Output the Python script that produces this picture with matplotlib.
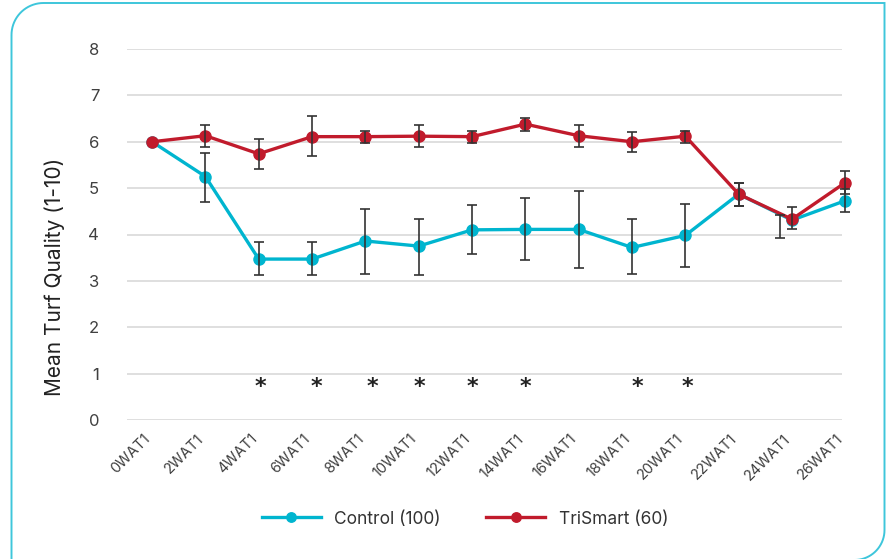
import numpy as np
import matplotlib
matplotlib.use("Agg")
import matplotlib.pyplot as plt
from matplotlib.patches import PathPatch
from matplotlib.path import Path
from matplotlib.transforms import ScaledTranslation

plt.rcParams['font.family'] = ['Inter', 'DejaVu Sans']

weeks = ['0WAT1', '2WAT1', '4WAT1', '6WAT1', '8WAT1', '10WAT1', '12WAT1',
         '14WAT1', '16WAT1', '18WAT1', '20WAT1', '22WAT1', '24WAT1', '26WAT1']

control = [6.0, 5.25, 3.47, 3.47, 3.86, 3.75, 4.10, 4.11, 4.11, 3.72, 3.98, 4.87, 4.31, 4.73]
control_hi = [6.0, 5.76, 3.83, 3.83, 4.56, 4.33, 4.64, 4.78, 4.94, 4.33, 4.66, 5.12, 4.42, 4.98]
control_lo = [6.0, 4.71, 3.13, 3.13, 3.14, 3.13, 3.58, 3.45, 3.28, 3.14, 3.30, 4.61, 3.93, 4.49]
control_err_shift = [0, 0, 0, 0, 0, 0, 0, 0, 0, 0, 0, 0, -0.22, 0]

trismart = [6.0, 6.13, 5.74, 6.11, 6.11, 6.12, 6.11, 6.38, 6.13, 6.0, 6.12, 4.87, 4.33, 5.12]
trismart_hi = [6.0, 6.36, 6.07, 6.56, 6.24, 6.36, 6.24, 6.51, 6.36, 6.20, 6.24, 5.12, 4.59, 5.37]
trismart_lo = [6.0, 5.89, 5.41, 5.69, 5.98, 5.88, 5.98, 6.24, 5.88, 5.78, 5.98, 4.61, 4.12, 4.87]

# significance marks (x in category units)
star_x = [2.03, 3.09, 4.14, 5.01, 6.0, 7.0, 9.1, 10.03]
star_y = 0.72

cyan = '#00B5CF'
red = '#C11B2C'

fig = plt.figure(figsize=(8.94, 5.59), dpi=100)
W, H = 894, 559

# rounded frame round the whole chart
def frame_path():
    l, t, r, b = 11.5, 3.0, 884.5, 560.0
    r1, r2 = 32, 30
    pts = []
    a = np.linspace(np.pi, np.pi / 2, 20)
    pts += [(l + r1 + r1 * np.cos(v), t + r1 - r1 * np.sin(v)) for v in a]
    pts += [(r, t), (r, b - r2)]
    a = np.linspace(0, -np.pi / 2, 20)
    pts += [(r - r2 + r2 * np.cos(v), b - r2 - r2 * np.sin(v)) for v in a]
    pts += [(l, b), (l, t + r1)]
    pts = [(x / W, 1 - y / H) for x, y in pts]
    return Path(pts)

fig.patches.append(PathPatch(frame_path(), transform=fig.transFigure,
                             fill=False, edgecolor='#3EC6DB', lw=1.4))

ax = fig.add_axes([127 / W, 1 - 420 / H, 729 / W, 371 / H])
x = np.arange(len(weeks))

for s in ax.spines.values():
    s.set_visible(False)
ax.hlines(range(0, 9), -0.47, 12.94, colors='#D9D9D9', lw=1.2, zorder=0)

ax.plot(x, control, color=cyan, lw=2.4, marker='o', ms=8, zorder=3, label='Control (100)')
ax.plot(x, trismart, color=red, lw=2.4, marker='o', ms=8, zorder=4, label='TriSmart (60)')

cx = x + np.array(control_err_shift)
cmid = [(h + l) / 2 for h, l in zip(control_hi, control_lo)]
chalf = [(h - l) / 2 for h, l in zip(control_hi, control_lo)]
ax.errorbar(cx[1:], cmid[1:], yerr=chalf[1:], fmt='none', ecolor='#333333',
            elinewidth=1.2, capsize=3.5, capthick=1.2, zorder=5)
tmid = [(h + l) / 2 for h, l in zip(trismart_hi, trismart_lo)]
thalf = [(h - l) / 2 for h, l in zip(trismart_hi, trismart_lo)]
ax.errorbar(x[1:], tmid[1:], yerr=thalf[1:], fmt='none', ecolor='#333333',
            elinewidth=1.2, capsize=3.5, capthick=1.2, zorder=5)

for sx in star_x:
    ax.text(sx, star_y, '*', ha='center', va='center', fontsize=16,
            fontweight='bold', color='#222222', family='DejaVu Sans')

ax.set_xlim(-0.47, 13.2)
ax.set_ylim(0, 8)
ax.set_yticks(range(0, 9))
ax.tick_params(axis='y', length=0, pad=20, labelsize=12, labelcolor='#404040')
ax.set_xticks(x)
ax.set_xticklabels(weeks, rotation=45, ha='right', va='center',
                   rotation_mode='anchor', fontsize=10.5, color='#404040')
ax.tick_params(axis='x', length=0, pad=12)
for lab in ax.get_xticklabels():
    lab.set_transform(lab.get_transform() + ScaledTranslation(-0.04, 0, fig.dpi_scale_trans))

fig.text(55 / W, 1 - 277 / H, 'Mean Turf Quality (1-10)', rotation=90,
         ha='center', va='center', fontsize=15, color='#222222')

fig.legend(loc='center', bbox_to_anchor=(465 / W, 1 - 519 / H), ncol=2,
           frameon=False, fontsize=12.5, handlelength=3.4, columnspacing=2.6,
           markerscale=0.85, labelcolor='#333333')

fig.savefig('out.png', dpi=100)
